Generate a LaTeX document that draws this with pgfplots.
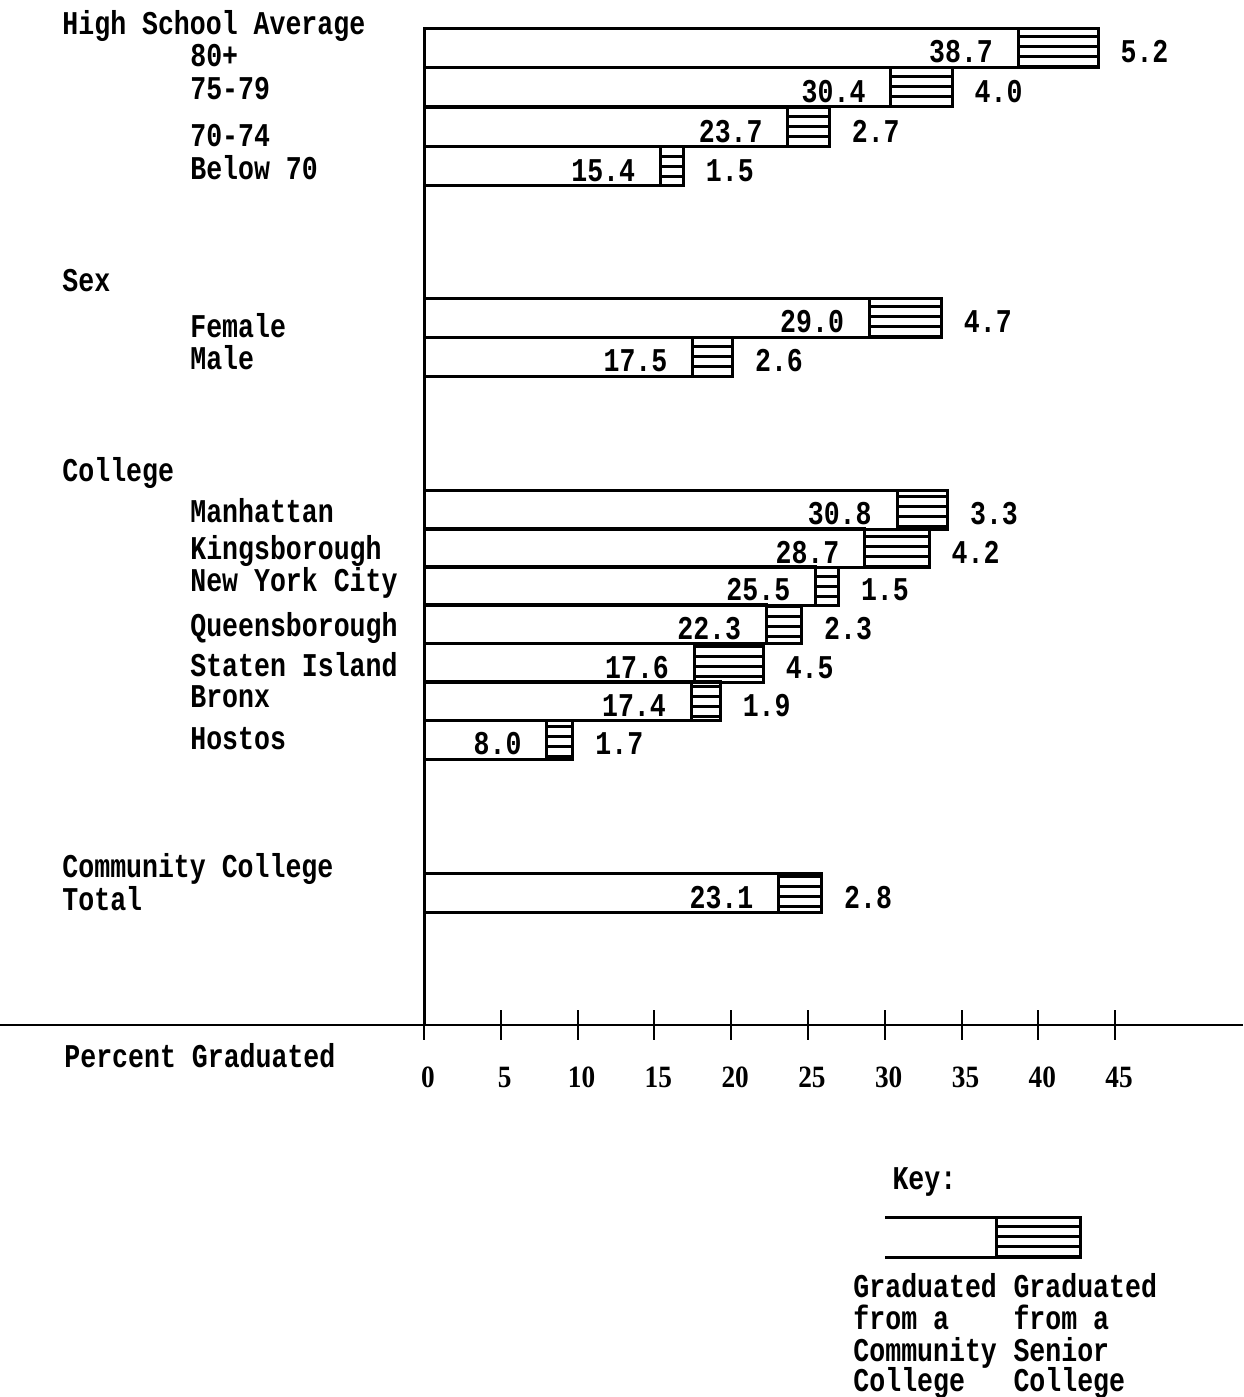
\documentclass[border=0pt]{standalone}
\usepackage{fontspec}
\usepackage{pgfplots}
\pgfplotsset{compat=1.18}
\usepackage{pgfplotstable}
\usetikzlibrary{patterns.meta}
\newfontfamily\tw{Liberation Mono}[FakeStretch=0.8]
\newfontfamily\tk{Liberation Serif}[FakeStretch=0.88]
\newcommand\twf{\tw\bfseries\fontsize{16.6pt}{20pt}\selectfont}
\newcommand\tkf{\tk\bfseries\fontsize{15.5pt}{17pt}\selectfont}

\pgfplotstableread{
y     cc   sc  tot
977   38.7 5.2 43.9
937.5 30.4 4.0 34.4
897.5 23.7 2.7 26.4
858.5 15.4 1.5 16.9
707   29.0 4.7 33.7
668   17.5 2.6 20.1
515   30.8 3.3 34.1
476.5 28.7 4.2 32.9
439   25.5 1.5 27.0
400.5 22.3 2.3 24.6
361.5 17.6 4.5 22.1
323.5 17.4 1.9 19.3
285   8.0  1.7 9.7
131.5 23.1 2.8 25.9
}\data

\begin{document}
\begin{tikzpicture}
\begin{axis}[name=ax, scale only axis, width=621.5pt, height=698.5pt,
  xmin=-27.61, xmax=53.33, ymin=-372, ymax=1025,
  axis x line=middle, axis y line=none,
  axis line style={-, line width=1.2pt},
  xtick={0,5,...,45}, xticklabels={0,5,10,15,20,25,30,35,40,45},
  xtick align=center, major tick length=15pt,
  x tick style={black, line width=1pt},
  xticklabel style={font=\tkf, anchor=base, xshift=2pt, yshift=-24pt},
  ytick=\empty,
  clip=false]
  % senior college part (drawn as full length, covered by community part)
  \addplot[xbar, bar shift=0pt, bar width=39, draw=black, line width=1.5pt,
    pattern={Lines[angle=0,distance=5pt,line width=1.5pt]}]
    table[x=tot, y=y]{\data};
  % community college part
  \addplot[xbar, bar shift=0pt, bar width=39, draw=black, line width=1.5pt, fill=white]
    table[x=cc, y=y]{\data};
  % value labels
  \addplot[draw=none, nodes near coords, point meta=explicit symbolic,
    nodes near coords style={anchor=base east, xshift=-12.5pt, font=\twf, inner sep=0pt}]
    table[x=cc, y expr=\thisrow{y}-15, meta=cc]{\data};
  \addplot[draw=none, nodes near coords, point meta=explicit symbolic,
    nodes near coords style={anchor=base west, xshift=11pt, font=\twf, inner sep=0pt}]
    table[x=tot, y expr=\thisrow{y}-15, meta=sc]{\data};

  \draw[line width=1.5pt] (axis cs:0,0) -- (axis cs:0,997);

  \begin{scope}[every node/.style={anchor=base west, font=\twf, inner sep=0pt}]
  \node at (axis cs:-23.57,990) {High School Average};
  \node at (axis cs:-15.24,958) {80+};
  \node at (axis cs:-15.24,925) {75-79};
  \node at (axis cs:-15.24,878) {70-74};
  \node at (axis cs:-15.24,845) {Below 70};
  \node at (axis cs:-23.57,733) {Sex};
  \node at (axis cs:-15.24,687) {Female};
  \node at (axis cs:-15.24,655) {Male};
  \node at (axis cs:-23.57,543) {College};
  \node at (axis cs:-15.24,502) {Manhattan};
  \node at (axis cs:-15.24,465) {Kingsborough};
  \node at (axis cs:-15.24,433) {New York City};
  \node at (axis cs:-15.24,388) {Queensborough};
  \node at (axis cs:-15.24,348) {Staten Island};
  \node at (axis cs:-15.24,317) {Bronx};
  \node at (axis cs:-15.24,275) {Hostos};
  \node at (axis cs:-23.57,147) {Community College};
  \node at (axis cs:-23.57,114) {Total};
  \node at (axis cs:-23.44,-43) {Percent Graduated};
  % key
  \node at (axis cs:30.48,-165) {Key:};
  \node at (axis cs:27.94,-272) {Graduated};
  \node at (axis cs:27.94,-304) {from a};
  \node at (axis cs:27.94,-336) {Community};
  \node at (axis cs:27.94,-366) {College};
  \node at (axis cs:38.36,-272) {Graduated};
  \node at (axis cs:38.36,-304) {from a};
  \node at (axis cs:38.36,-336) {Senior};
  \node at (axis cs:38.36,-366) {College};
  \end{scope}
  \draw[line width=1.5pt] (axis cs:30.02,-193) -- (axis cs:37.31,-193);
  \draw[line width=1.5pt] (axis cs:30.02,-232) -- (axis cs:37.31,-232);
  \draw[line width=1.5pt, pattern={Lines[angle=0,distance=5pt,line width=1.5pt]}]
    (axis cs:37.31,-193) rectangle (axis cs:42.72,-232);
\end{axis}
\pgfresetboundingbox
\path (ax.south west) rectangle (ax.north east);
\end{tikzpicture}
\end{document}
